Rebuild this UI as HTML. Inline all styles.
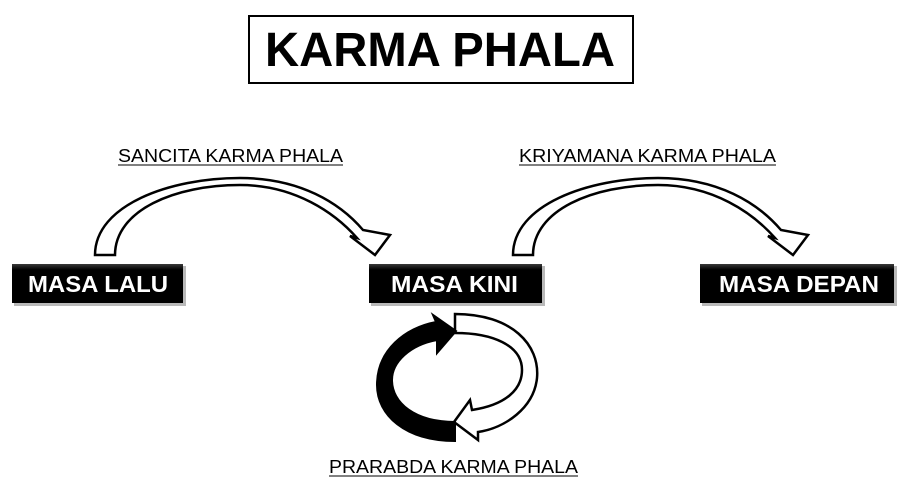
<!DOCTYPE html>
<html><head><meta charset="utf-8"><style>
html,body{margin:0;padding:0;background:#fff;}
svg{display:block;}
</style></head><body>
<svg width="909" height="490" viewBox="0 0 909 490" xmlns="http://www.w3.org/2000/svg">
<defs>
<linearGradient id="g" x1="0" y1="0" x2="0" y2="1">
<stop offset="0" stop-color="#3a3a3a"/><stop offset="0.15" stop-color="#000"/><stop offset="1" stop-color="#000"/>
</linearGradient>
</defs>
<rect x="249" y="16" width="384" height="67" fill="#fff" stroke="#000" stroke-width="2"/>
<text x="440" y="66" text-anchor="middle" font-family="Liberation Sans, sans-serif" font-weight="bold" font-size="48" textLength="350" lengthAdjust="spacingAndGlyphs" fill="#000">KARMA PHALA</text>

<g font-family="Liberation Sans, sans-serif" font-size="18" fill="#000">
<text x="118" y="162" textLength="225" lengthAdjust="spacingAndGlyphs">SANCITA KARMA PHALA</text>
<line x1="118" y1="165" x2="343" y2="165" stroke="#000" stroke-width="1"/>
<text x="519" y="162" textLength="257" lengthAdjust="spacingAndGlyphs">KRIYAMANA KARMA PHALA</text>
<line x1="519" y1="165" x2="776" y2="165" stroke="#000" stroke-width="1"/>
<text x="329" y="473" textLength="249" lengthAdjust="spacingAndGlyphs">PRARABDA KARMA PHALA</text>
<line x1="329" y1="476" x2="578" y2="476" stroke="#000" stroke-width="1"/>
</g>

<g fill="#8a8a8a" opacity="0.6">
<rect x="14" y="266" width="172" height="40"/>
<rect x="371" y="266" width="174" height="40"/>
<rect x="702" y="266" width="195" height="40"/>
</g>
<rect x="12" y="264" width="171" height="39" fill="url(#g)"/>
<rect x="369" y="264" width="173" height="39" fill="url(#g)"/>
<rect x="700" y="264" width="194" height="39" fill="url(#g)"/>
<g font-family="Liberation Sans, sans-serif" font-weight="bold" font-size="23" fill="#fff">
<text x="28" y="292" textLength="140" lengthAdjust="spacingAndGlyphs">MASA LALU</text>
<text x="391" y="292" textLength="127" lengthAdjust="spacingAndGlyphs">MASA KINI</text>
<text x="719" y="292" textLength="160" lengthAdjust="spacingAndGlyphs">MASA DEPAN</text>
</g>

<path d="M95,255 C95,205 170,178 240,178 C300,178 340,203 363,230 L390,235 L375,255 L350,236 L357,238 C335,213 295,185 240,185 C175,185 115,210 115,255 Z" fill="#fff" stroke="#000" stroke-width="2.5" stroke-linejoin="miter"/>
<path transform="translate(418,0)" d="M95,255 C95,205 170,178 240,178 C300,178 340,203 363,230 L390,235 L375,255 L350,236 L357,238 C335,213 295,185 240,185 C175,185 115,210 115,255 Z" fill="#fff" stroke="#000" stroke-width="2.5"/>

<path d="M455,314 C512,314 540,345 537,378 C534,408 505,428 478,432 L478,440 L454,422 L470,400 L472,410 C505,405 522,390 522,370 C522,345 492,333 455,333 Z" fill="#fff" stroke="#000" stroke-width="2.5"/>
<path d="M455,441 C405,441 377,415 377,385 C377,350 405,328 436,322 L433,315 L456,331 L437,353 L437,340 C410,345 392,362 392,380 C392,403 415,422 455,422 Z" fill="#000" stroke="#000" stroke-width="2"/>
</svg>
</body></html>
